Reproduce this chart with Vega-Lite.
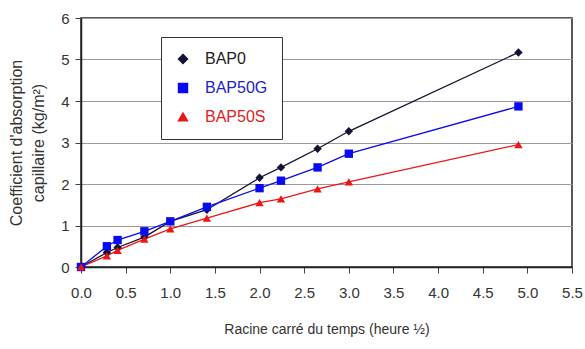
{
  "$schema": "https://vega.github.io/schema/vega-lite/v6.json",
  "width": 491,
  "height": 249,
  "autosize": "none",
  "padding": {"left": 81, "top": 18, "right": 13, "bottom": 82},
  "config": {
    "font": "Liberation Sans",
    "view": {"stroke": "#222", "strokeWidth": 1.5},
    "axis": {"labelFont": "Liberation Sans", "titleFont": "Liberation Sans", "labelColor": "#333", "titleColor": "#333", "titleFontWeight": "normal", "labelFontSize": 15, "titleFontSize": 15}
  },
  "data": {
    "values": [
      {"t": 0, "serie": "BAP0", "c": 0},
      {"t": 0.29, "serie": "BAP0", "c": 0.35},
      {"t": 0.41, "serie": "BAP0", "c": 0.47},
      {"t": 0.71, "serie": "BAP0", "c": 0.72},
      {"t": 1.0, "serie": "BAP0", "c": 1.1},
      {"t": 1.41, "serie": "BAP0", "c": 1.38},
      {"t": 2.0, "serie": "BAP0", "c": 2.15},
      {"t": 2.24, "serie": "BAP0", "c": 2.4},
      {"t": 2.65, "serie": "BAP0", "c": 2.85},
      {"t": 3.0, "serie": "BAP0", "c": 3.27},
      {"t": 4.9, "serie": "BAP0", "c": 5.17},
      {"t": 0, "serie": "BAP50G", "c": 0},
      {"t": 0.29, "serie": "BAP50G", "c": 0.5},
      {"t": 0.41, "serie": "BAP50G", "c": 0.65},
      {"t": 0.71, "serie": "BAP50G", "c": 0.86},
      {"t": 1.0, "serie": "BAP50G", "c": 1.1},
      {"t": 1.41, "serie": "BAP50G", "c": 1.45},
      {"t": 2.0, "serie": "BAP50G", "c": 1.9},
      {"t": 2.24, "serie": "BAP50G", "c": 2.08},
      {"t": 2.65, "serie": "BAP50G", "c": 2.4},
      {"t": 3.0, "serie": "BAP50G", "c": 2.73},
      {"t": 4.9, "serie": "BAP50G", "c": 3.87},
      {"t": 0, "serie": "BAP50S", "c": 0},
      {"t": 0.29, "serie": "BAP50S", "c": 0.27},
      {"t": 0.41, "serie": "BAP50S", "c": 0.4},
      {"t": 0.71, "serie": "BAP50S", "c": 0.67},
      {"t": 1.0, "serie": "BAP50S", "c": 0.92},
      {"t": 1.41, "serie": "BAP50S", "c": 1.18},
      {"t": 2.0, "serie": "BAP50S", "c": 1.55},
      {"t": 2.24, "serie": "BAP50S", "c": 1.64},
      {"t": 2.65, "serie": "BAP50S", "c": 1.88},
      {"t": 3.0, "serie": "BAP50S", "c": 2.05},
      {"t": 4.9, "serie": "BAP50S", "c": 2.95}
    ]
  },
  "encoding": {
    "x": {
      "field": "t", "type": "quantitative",
      "scale": {"domain": [0, 5.5], "nice": false},
      "axis": {"values": [0, 0.5, 1, 1.5, 2, 2.5, 3, 3.5, 4, 4.5, 5, 5.5], "format": ".1f", "labelFlush": false, "grid": false, "domainColor": "#222", "domainWidth": 1.5, "tickColor": "#444", "tickSize": 6, "labelPadding": 12, "title": "Racine carré du temps (heure ½)", "titlePadding": 22, "titleFontSize": 14}
    },
    "y": {
      "field": "c", "type": "quantitative",
      "scale": {"domain": [0, 6], "nice": false},
      "axis": {"values": [0, 1, 2, 3, 4, 5, 6], "labelFlush": false, "grid": true, "gridColor": "#999", "gridWidth": 1.2, "domainColor": "#222", "domainWidth": 1.5, "tickColor": "#444", "tickSize": 6, "labelPadding": 6, "title": ["Coefficient d'absorption", "capillaire (kg/m²)"], "titlePadding": 14, "titleFontSize": 16, "titleLineHeight": 22}
    },
    "color": {
      "field": "serie", "type": "nominal",
      "scale": {"domain": ["BAP0", "BAP50G", "BAP50S"], "range": ["#111133", "#0a0af0", "#ee1515"]},
      "legend": {
        "title": null, "orient": "none", "legendX": 80, "legendY": 19,
        "strokeColor": "#333", "fillColor": "white", "padding": 14,
        "labelFontSize": 16, "symbolSize": 80, "rowPadding": 13, "labelOffset": 14,
        "encode": {"labels": {"update": {"fill": {"signal": "datum.label == 'BAP0' ? '#222' : datum.label == 'BAP50G' ? '#2222cc' : '#dd2222'"}}}}
      }
    },
    "shape": {"field": "serie", "type": "nominal", "scale": {"domain": ["BAP0", "BAP50G", "BAP50S"], "range": ["diamond", "square", "triangle-up"]}}
  },
  "layer": [
    {"mark": {"type": "line", "strokeWidth": 1.3}},
    {
      "mark": {"type": "point", "filled": true, "opacity": 1, "size": 70}
    }
  ]
}
